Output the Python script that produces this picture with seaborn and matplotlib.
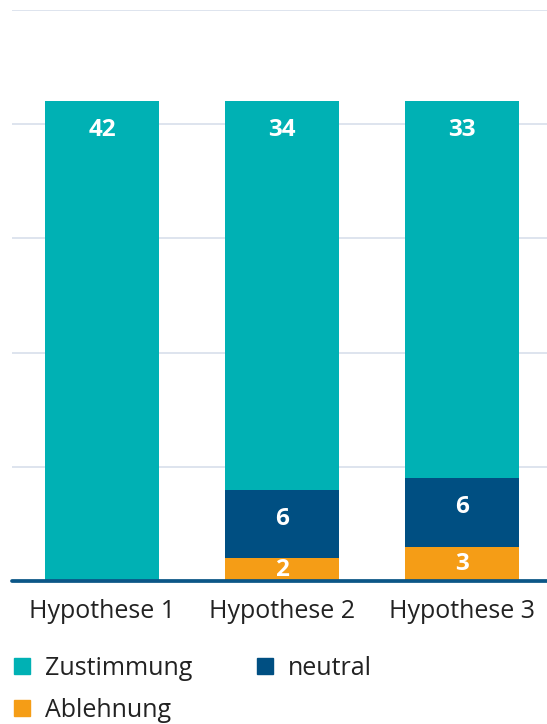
import matplotlib
matplotlib.use("Agg")
import matplotlib.pyplot as plt
import seaborn as sns
import pandas as pd
from matplotlib.lines import Line2D

# data
categories = ["Hypothese 1", "Hypothese 2", "Hypothese 3"]
ablehnung = [0, 2, 3]
neutral = [0, 6, 6]
zustimmung = [42, 34, 33]

COLORS = {"Zustimmung": "#00B1B4", "neutral": "#004F82", "Ablehnung": "#F59D16"}

sns.set_theme(style="white")
plt.rcParams["font.family"] = ["Open Sans", "DejaVu Sans"]

df = pd.DataFrame({
    "Kategorie": categories,
    "Ablehnung": ablehnung,
    "neutral": neutral,
    "Zustimmung": zustimmung,
})
df["cum_abl"] = df["Ablehnung"]
df["cum_neu"] = df["cum_abl"] + df["neutral"]
df["cum_zus"] = df["cum_neu"] + df["Zustimmung"]

fig = plt.figure(figsize=(5.47, 7.24), dpi=100)
ax = fig.add_axes([12 / 547, 1 - 581 / 724, 1 - 12 / 547, (581 - 10) / 724])

# draw from back to front so the stacks look right
for col, name in [("cum_zus", "Zustimmung"), ("cum_neu", "neutral"), ("cum_abl", "Ablehnung")]:
    sns.barplot(data=df, x="Kategorie", y=col, color=COLORS[name], width=0.634,
                saturation=1, linewidth=0, ax=ax, zorder=2)

ax.set_ylim(0, 50)
ax.set_xlim(-0.5, 2.472)
ax.set_yticks([10, 20, 30, 40, 50])
ax.set_yticklabels([])
ax.yaxis.grid(True, color="#D5DDEA", linewidth=1.1, zorder=0)
ax.set_axisbelow(True)
for s in ax.spines.values():
    s.set_visible(False)
ax.axhline(0, color="#0B5687", linewidth=2.7, zorder=3, clip_on=False)
ax.set_xlabel("")
ax.set_ylabel("")
ax.tick_params(axis="x", length=0, pad=13, labelsize=18, labelcolor="#222222")
ax.tick_params(axis="y", length=0)

# value labels: near top of each segment, but no lower than its centre
offset = 2.55
for i in range(len(categories)):
    segs = [(0, ablehnung[i]), (ablehnung[i], neutral[i]),
            (ablehnung[i] + neutral[i], zustimmung[i])]
    for base, val in segs:
        if val <= 0:
            continue
        top = base + val
        y = max(top - offset, base + val / 2)
        ax.text(i, y, str(val), ha="center", va="center", color="white",
                fontsize=17.5, fontweight="bold", zorder=4)

handles = [
    Line2D([], [], marker="s", linestyle="", markersize=11, color=COLORS["Zustimmung"]),
    Line2D([], [], marker="s", linestyle="", markersize=11, color=COLORS["Ablehnung"]),
    Line2D([], [], marker="s", linestyle="", markersize=11, color=COLORS["neutral"]),
]
labels = ["Zustimmung", "Ablehnung", "neutral"]
fig.legend(handles, labels, loc="upper left", bbox_to_anchor=(9 / 547, 1 - 656 / 724),
           ncol=2, frameon=False, fontsize=18, handlelength=1.0, handletextpad=0.44,
           columnspacing=2.4, labelspacing=0.68, borderpad=0, borderaxespad=0,
           labelcolor="#222222")

fig.savefig("out.png", dpi=100)
